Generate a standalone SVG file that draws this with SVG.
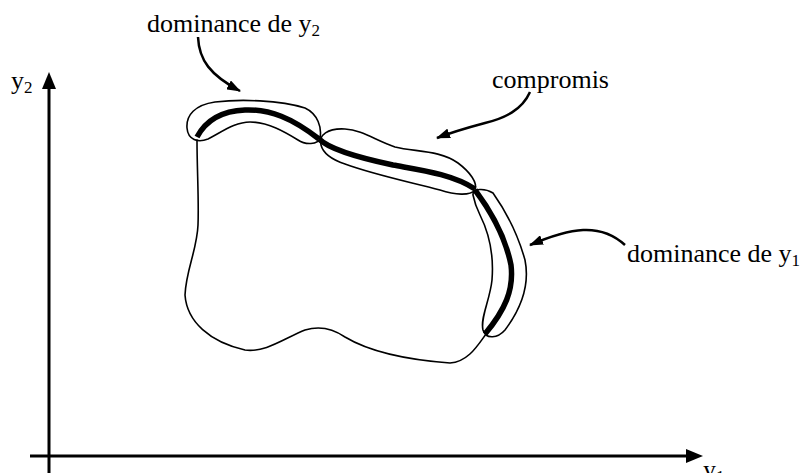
<svg xmlns="http://www.w3.org/2000/svg" width="803" height="473" viewBox="0 0 803 473">
<style>
.lbl{font-family:"Liberation Serif","Times New Roman",serif;font-size:26px;fill:#000}
.sub{font-size:17px}
.outline{fill:none;stroke:#000;stroke-width:1.6;stroke-linejoin:round;stroke-linecap:round}
.thick{fill:none;stroke:#000;stroke-width:5.5;stroke-linecap:butt;stroke-linejoin:round}
.leader{fill:none;stroke:#000;stroke-width:2.5}
.axis{fill:none;stroke:#000;stroke-width:3}
</style>
<defs>
<marker id="ah" viewBox="0 0 14 10" refX="13" refY="5" markerWidth="14" markerHeight="10" markerUnits="userSpaceOnUse" orient="auto">
<path d="M0,0 L14,5 L0,10 z" fill="#000"/>
</marker>
</defs>
<g id="axes">
<line class="axis" x1="49" y1="473" x2="49" y2="86"/>
<polygon points="49,72 42,89 56,89" fill="#000"/>
<line class="axis" x1="30" y1="456" x2="688" y2="456"/>
<polygon points="703,456 686,449 686,463" fill="#000"/>
<text class="lbl" x="11" y="89">y<tspan class="sub" dy="4">2</tspan></text>
<text class="lbl" x="703" y="478">y<tspan class="sub" dy="4">1</tspan></text>
</g>
<g id="feasible-region">
<path class="outline" d="M197,140 C197,170 199,200 198,225 C197,250 186,270 185,295 C187,322 210,342 245,350 C265,353 285,338 305,330 C318,326 332,328 345,337 C370,352 410,360 450,363 C468,362 478,345 486,334"/>
</g>
<g id="dominance-y2">
<path class="outline" d="M187,128 C186,115 195,105 215,102 C240,99 280,100 305,108 C318,114 322,128 320,138 C318,145 305,145 298,140 C285,132 268,122 250,122 C235,122 222,132 208,139 C198,143 188,140 187,128 Z"/>
<path class="thick" d="M197,137 C205,122 220,111 245,110 C270,109 292,118 319,139"/>
</g>
<g id="compromis">
<path class="outline" d="M321,145 C318,135 328,128 345,129 C362,130 375,140 395,147 C415,152 440,150 458,163 C470,172 478,183 475,190 C470,196 455,195 440,190 C410,182 375,175 345,164 C330,159 323,153 321,145 Z"/>
<path class="thick" d="M319,139 C330,150 360,158 393,165 C420,170 452,174 475,189"/>
</g>
<g id="dominance-y1">
<path class="outline" d="M473,195 C472,188 485,188 493,193 C505,210 518,235 525,260 C530,285 520,310 505,330 C498,338 486,340 483,330 C480,318 490,300 492,280 C494,255 490,235 480,215 C476,207 474,200 473,195 Z"/>
<path class="thick" d="M475,190 C490,210 505,235 511,265 C514,290 505,310 485,334"/>
</g>
<g id="connectors">
<path class="leader" marker-end="url(#ah)" d="M198,37 C199,60 210,75 240,91"/>
<path class="leader" marker-end="url(#ah)" d="M530,92 C522,110 505,118 485,123 C470,127 455,131 437,138"/>
<path class="leader" marker-end="url(#ah)" d="M625,245 C600,222 570,228 530,245"/>
</g>
<g id="labels">
<text class="lbl" x="147" y="32">dominance de y<tspan class="sub" dy="4">2</tspan></text>
<text class="lbl" x="492" y="88">compromis</text>
<text class="lbl" x="627" y="262">dominance de y<tspan class="sub" dy="4">1</tspan></text>
</g>
</svg>
